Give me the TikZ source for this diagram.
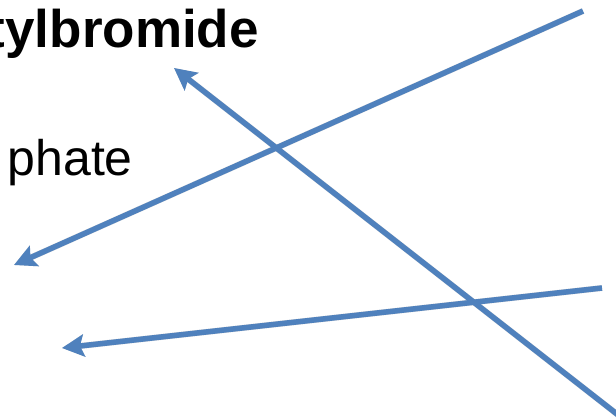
\documentclass[tikz,border=0pt]{standalone}
\usepackage{fontspec}
\setmainfont{Liberation Sans}
\usetikzlibrary{arrows.meta}
\definecolor{arrowblue}{HTML}{4F81BD}
\tikzset{
  x=1pt, y=-1pt,
  label text/.style={inner sep=0pt, font=\fontsize{50}{60}\selectfont},
  pointer/.style={draw=arrowblue, line width=5.5pt,
    -{Stealth[length=22pt,width=22pt,inset=4pt]}},
  pointer shadow/.style={draw=black, opacity=0.15, line width=6pt,
    -{Stealth[length=22pt,width=22pt,inset=4pt]}, shift={(2,3)}}
}
\begin{document}
\begin{tikzpicture}
  \useasboundingbox (0,0) rectangle (616,419);

  % text fragments
  \node[label text, anchor=base east, font=\fontsize{53}{64}\selectfont\bfseries]
    (name1) at (259,48) {tylbromide};
  \node[label text, anchor=base east] (name2) at (133,176) {phate};

  % arrow end points
  \coordinate (a1s) at (583,11);
  \coordinate (a1e) at (14,265);
  \coordinate (a2s) at (622,418);
  \coordinate (a2e) at (174,68);
  \coordinate (a3s) at (602,288);
  \coordinate (a3e) at (62,348);

  % soft shadows
  \draw[pointer shadow] (a1s) -- (a1e);
  \draw[pointer shadow] (a2s) -- (a2e);
  \draw[pointer shadow] (a3s) -- (a3e);

  % arrows
  \draw[pointer] (a1s) -- (a1e);
  \draw[pointer] (a2s) -- (a2e);
  \draw[pointer] (a3s) -- (a3e);
\end{tikzpicture}
\end{document}
